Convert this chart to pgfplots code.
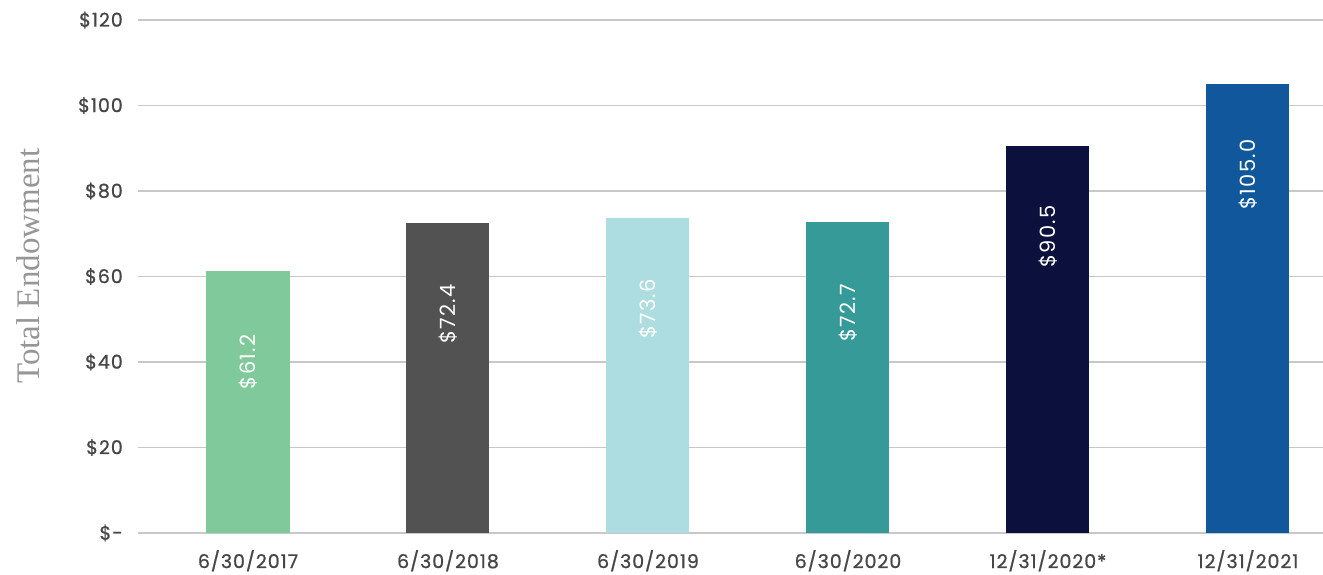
\documentclass[border=0pt]{standalone}
\usepackage{fontspec}
\setmainfont{Poppins}
\newfontfamily\lserif{Liberation Serif}
\newfontfamily\tickfont{Poppins}[LetterSpace=5, FakeBold=0.9]
\newfontfamily\barfont{Poppins}[LetterSpace=6]
\usepackage{pgfplots}
\pgfplotsset{compat=1.18}
\definecolor{cA}{RGB}{128,201,155}
\definecolor{cB}{RGB}{82,82,82}
\definecolor{cC}{RGB}{173,221,224}
\definecolor{cD}{RGB}{53,154,152}
\definecolor{cE}{RGB}{11,16,60}
\definecolor{cF}{RGB}{16,87,155}
\definecolor{tickc}{RGB}{70,70,70}
\definecolor{gridc}{RGB}{200,200,200}
\definecolor{labc}{RGB}{150,150,150}
\begin{document}
\begin{tikzpicture}[x=1pt,y=1pt]
\useasboundingbox (0,0) rectangle (1323,575);
\begin{axis}[
  at={(138pt,42pt)}, anchor=south west,
  scale only axis, width=1185pt, height=513pt,
  xmin=-0.55, xmax=5.375, ymin=0, ymax=120,
  ytick={0,20,40,60,80,100,120},
  yticklabels={\$-,\$20,\$40,\$60,\$80,\$100,\$120},
  xtick={0,1,2,3,4,5},
  xticklabels={6/30/2017,6/30/2018,6/30/2019,6/30/2020,12/31/2020*,12/31/2021},
  axis line style={draw=none},
  major tick length=0pt,
  ymajorgrids,
  grid style={draw=gridc, line width=1.5pt},
  tick label style={font=\tickfont\fontsize{19}{22}\selectfont, text=tickc},
  yticklabel style={inner sep=0pt, xshift=-15pt},
  xticklabel style={inner sep=0pt, yshift=-17pt},
  ylabel={\lserif Total Endowment},
  ylabel style={at={(axis description cs:-0.0928,0.52)}, anchor=center, font=\fontsize{33}{38}\selectfont, text=labc},
  ybar, bar width=83pt, bar shift=0pt,
  nodes near coords={\$\pgfmathprintnumber[fixed,fixed zerofill,precision=1,assume math mode=true]{\pgfplotspointmeta}},
  every node near coord/.append style={font=\barfont\fontsize{21}{25}\selectfont, text=white, anchor=center, inner sep=0pt, yshift=-90.5pt, rotate=90},
]
\addplot[fill=cA, draw=none] coordinates {(0,61.2)};
\addplot[fill=cB, draw=none] coordinates {(1,72.4)};
\addplot[fill=cC, draw=none] coordinates {(2,73.6)};
\addplot[fill=cD, draw=none] coordinates {(3,72.7)};
\addplot[fill=cE, draw=none] coordinates {(4,90.5)};
\addplot[fill=cF, draw=none] coordinates {(5,105.0)};
\end{axis}
\end{tikzpicture}
\end{document}
